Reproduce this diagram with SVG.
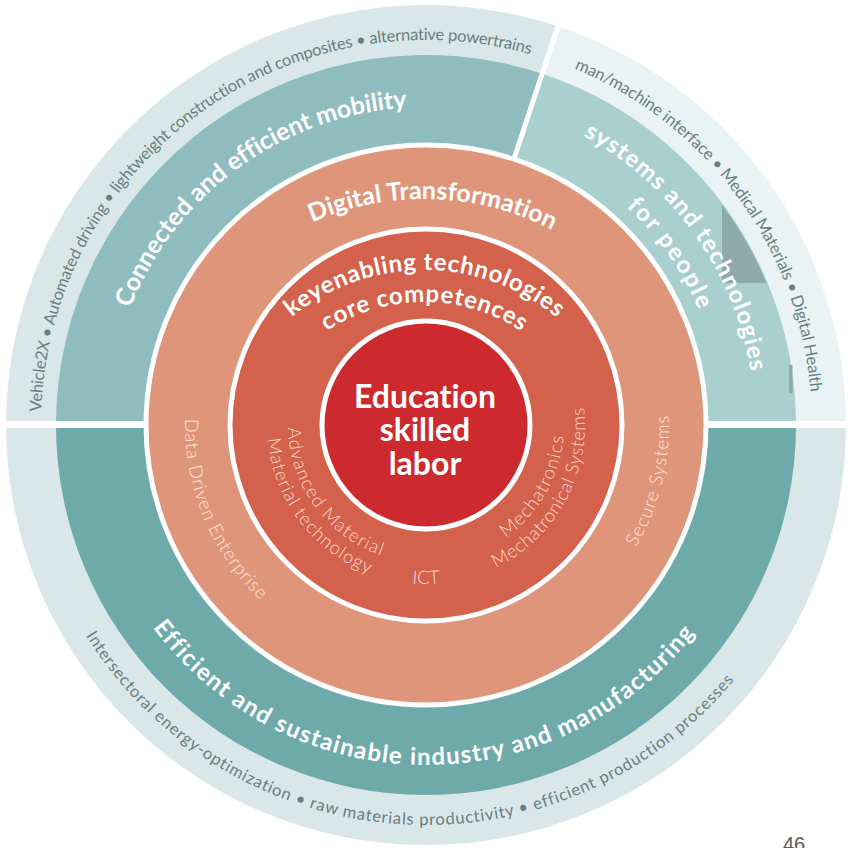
<svg xmlns="http://www.w3.org/2000/svg" width="850" height="848" viewBox="0 0 850 848">
<style>
.f{font-family:Lato,"Liberation Sans",sans-serif;font-variant-ligatures:none}
.out{font-size:16.5px;fill:#687f81;font-weight:400}
.bold{font-weight:700;fill:#ffffff}
.lt1{font-weight:300;fill:#fde6dc;font-size:18.5px}
.lt2{font-weight:300;fill:#fad9cf;font-size:18.5px}
.sep{stroke:#ffffff;stroke-width:5}
</style>
<defs>
<path id="pT1" d="M426,810 A385,385 0 1 1 426,40 A385,385 0 1 1 426,810"/>
<path id="pConn" d="M426,743 A318,318 0 1 1 426,107 A318,318 0 1 1 426,743"/>
<path id="pDT" d="M424,759 A280,280 0 1 1 424,199 A280,280 0 1 1 424,759"/>
<path id="pKey1" d="M424,688 A209,209 0 1 1 424,270 A209,209 0 1 1 424,688"/>
<path id="pKey2" d="M424,656 A177,177 0 1 1 424,302 A177,177 0 1 1 424,656"/>
<path id="pSys1" d="M426,754 A329,329 0 1 1 426,96 A329,329 0 1 1 426,754"/>
<path id="pSys2" d="M426,721 A296,296 0 1 1 426,129 A296,296 0 1 1 426,721"/>
<path id="pOutR" d="M426,811 A386,386 0 1 1 426,39 A386,386 0 1 1 426,811"/>
<path id="pInd" d="M426,85 A340,340 0 1 0 426,765 A340,340 0 1 0 426,85"/>
<path id="pOutB" d="M426,25 A400,400 0 1 0 426,825 A400,400 0 1 0 426,25"/>
<path id="pDDE" d="M426,184 A241,241 0 1 0 426,666 A241,241 0 1 0 426,184"/>
<path id="pSec" d="M426,182 A243,243 0 1 0 426,668 A243,243 0 1 0 426,182"/>
<path id="pIn1" d="M426,287 A138,138 0 1 0 426,563 A138,138 0 1 0 426,287"/>
<path id="pIn2" d="M426,266 A159,159 0 1 0 426,584 A159,159 0 1 0 426,266"/>
<clipPath id="clipTeal"><circle cx="426" cy="425" r="369"/></clipPath>
</defs>
<rect width="850" height="848" fill="#ffffff"/>

<g id="mobility">
<path d="M426,425 L6,425 A420,420 0 0 1 557.9,26.3 Z" fill="#d9e7e8"/>
<path d="M426,425 L56,425 A370,370 0 0 1 542.2,73.7 Z" fill="#8fbcbe"/>
<text class="f out" text-anchor="middle"><textPath href="#pT1" startOffset="966.3" textLength="696.8" lengthAdjust="spacing">Vehicle2X • Automated driving • lightweight construction and composites • alternative powertrains</textPath></text>
<text class="f bold" font-size="25" text-anchor="middle"><textPath href="#pConn" startOffset="799.2" textLength="360.8" lengthAdjust="spacing">Connected and efficient mobility</textPath></text>
</g>

<g id="people">
<path d="M426,425 L557.9,26.3 A420,420 0 0 1 846,425 Z" fill="#eaf3f3"/>
<path d="M426,425 L542.2,73.7 A370,370 0 0 1 796,425 Z" fill="#aacfcf"/>
<g clip-path="url(#clipTeal)"><rect x="722" y="203" width="45" height="80" fill="#8ea9aa"/></g>
<rect x="789" y="365" width="3.5" height="28" fill="#8ea9aa"/>
<text class="f out" text-anchor="middle"><textPath href="#pOutR" startOffset="1574.8" textLength="421.1" lengthAdjust="spacing">man/machine interface • Medical Materials • Digital Health</textPath></text>
<text class="f bold" font-size="24" text-anchor="middle"><textPath href="#pSys1" startOffset="1346.5" textLength="298.6" lengthAdjust="spacing">systems and technologies</textPath></text>
<text class="f bold" font-size="24" text-anchor="middle"><textPath href="#pSys2" startOffset="1212.8" textLength="126.6" lengthAdjust="spacing">for people</textPath></text>
</g>

<g id="industry">
<path d="M6,425 A420,420 0 0 0 846,425 Z" fill="#d9e7e8"/>
<path d="M56,425 A370,370 0 0 0 796,425 Z" fill="#6eaaa9"/>
<text class="f out" text-anchor="middle"><textPath href="#pOutB" startOffset="1228.7" textLength="758.2" lengthAdjust="spacing">Intersectoral energy-optimization  •  raw materials productivity  •  efficient production processes</textPath></text>
<text class="f bold" font-size="24" text-anchor="middle"><textPath href="#pInd" startOffset="1064.3" textLength="627.2" lengthAdjust="spacing">Efficient and sustainable industry and manufacturing</textPath></text>
</g>

<g id="separators">
<rect x="0" y="421" width="146" height="7" fill="#ffffff"/>
<rect x="706" y="421" width="144" height="7" fill="#ffffff"/>
<line class="sep" x1="514.5" y1="157.3" x2="559.5" y2="21.5" stroke-width="4"/>
</g>

<g id="digital-transformation">
<circle cx="426" cy="425" r="280" fill="#df9579" class="sep"/>
<text class="f bold" font-size="25" text-anchor="middle"><textPath href="#pDT" startOffset="888.4" textLength="248.3" lengthAdjust="spacing">Digital Transformation</textPath></text>
<text class="f lt1" text-anchor="middle"><textPath href="#pDDE" startOffset="473.2" textLength="201.9" lengthAdjust="spacing">Data Driven Enterprise</textPath></text>
<text class="f lt1" text-anchor="middle"><textPath href="#pSec" startOffset="1085.1" textLength="137.8" lengthAdjust="spacing">Secure Systems</textPath></text>
</g>

<g id="key-technologies">
<circle cx="426" cy="425" r="196" fill="#d4614b" class="sep"/>
<text class="f bold" font-size="24" text-anchor="middle"><textPath href="#pKey1" startOffset="657.1" textLength="287.1" lengthAdjust="spacing">keyenabling technologies</textPath></text>
<text class="f bold" font-size="24" text-anchor="middle"><textPath href="#pKey2" startOffset="556.1" textLength="206" lengthAdjust="spacing">core competences</textPath></text>
<text class="f lt2" text-anchor="middle"><textPath href="#pIn1" startOffset="303.5" textLength="168.6" lengthAdjust="spacing">Advanced Material</textPath></text>
<text class="f lt2" text-anchor="middle"><textPath href="#pIn2" startOffset="352.4" textLength="177.6" lengthAdjust="spacing">Material technology</textPath></text>
<text class="f lt2" font-size="17" text-anchor="middle"><textPath href="#pIn2" startOffset="499.5">ICT</textPath></text>
<text class="f lt2" text-anchor="middle"><textPath href="#pIn1" startOffset="578.5" textLength="120.4" lengthAdjust="spacing">Mechatronics</textPath></text>
<text class="f lt2" text-anchor="middle"><textPath href="#pIn2" startOffset="669.2" textLength="195.1" lengthAdjust="spacing">Mechatronical Systems</textPath></text>
</g>

<g id="education">
<circle cx="426" cy="425" r="104" fill="#cc2a2e" class="sep"/>
<text class="f bold" font-size="32" text-anchor="middle" x="425" y="408">Education</text>
<text class="f bold" font-size="32" text-anchor="middle" x="425" y="441">skilled</text>
<text class="f bold" font-size="32" text-anchor="middle" x="425" y="475">labor</text>
</g>

<g id="page-number">
<text x="783" y="851" font-family="'Liberation Sans',Arial,sans-serif" font-size="20" fill="#595959">46</text>
</g>
<g id="connectors"/>
</svg>
